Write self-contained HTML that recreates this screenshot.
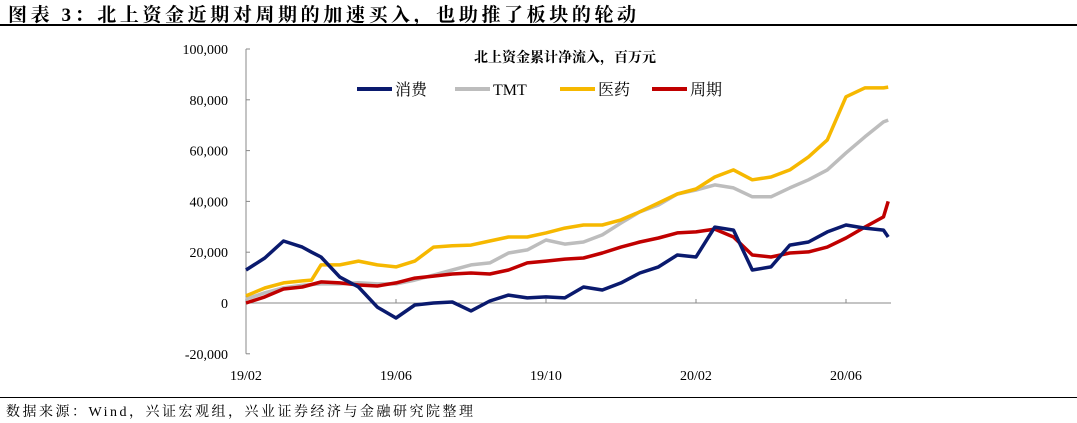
<!DOCTYPE html>
<html><head><meta charset="utf-8">
<style>
html,body{margin:0;padding:0;background:#fff;}
body{width:1077px;height:423px;overflow:hidden;position:relative;font-family:"Liberation Serif","Noto Serif CJK SC",serif;}
#title{position:absolute;left:8px;top:0px;font-size:19px;letter-spacing:3.6px;font-weight:bold;color:#000;white-space:nowrap;font-family:"Liberation Serif","Noto Serif CJK SC",serif;}
#rule1{position:absolute;left:0;top:24px;width:1077px;height:2px;background:#000;}
#rule2{position:absolute;left:0;top:397px;width:1077px;height:1px;background:#000;}
#source{position:absolute;left:6px;top:401px;font-size:14px;letter-spacing:2.5px;color:#000;white-space:nowrap;}
svg{position:absolute;left:0;top:0;}
</style></head>
<body>
<div id="title">图表 3：北上资金近期对周期的加速买入，也助推了板块的轮动</div>
<div id="rule1"></div>
<svg id="chart" width="1077" height="423"></svg>
<div id="rule2"></div>
<div id="source">数据来源：Wind，兴证宏观组，兴业证券经济与金融研究院整理</div>
<script>
const yTicks=[100000,80000,60000,40000,20000,0,-20000];
const yTickLabels=["100,000","80,000","60,000","40,000","20,000","0","-20,000"];
const xTickIdx=[0,8,16,24,32];
const xTickLabels=["19/02","19/06","19/10","20/02","20/06"];
const idx=[0,1,2,3,3.5,4,5,6,7,8,9,10,11,12,13,14,15,16,17,18,19,20,21,22,23,24,25,26,27,28,29,30,31,32,33,34,34.25];
const consumer=[13000,17700,24400,22000,20000,18100,10200,6300,-1600,-5900,-800,0,400,-3100,800,3100,2000,2400,2000,6300,5100,7900,11800,14200,18900,18100,29900,28700,13000,14200,22800,24000,28000,30700,29500,28700,26000];
const tmt=[1500,4000,6000,7000,7300,7500,7500,8000,7500,7500,9000,11000,13000,15000,15800,19700,20900,24800,23200,24000,26800,31500,35900,38600,42900,44500,46500,45300,41800,41800,45300,48500,52400,59100,65400,71300,72000];
const pharma=[2800,5900,7900,8700,9000,15000,15000,16500,15000,14200,16500,22000,22500,22800,24400,26000,26000,27600,29500,30700,30700,32700,35900,39400,42900,44900,49600,52400,48500,49600,52400,57500,64200,81200,84700,84700,85000];
const cyclical=[0,2400,5500,6300,7300,8300,7900,7100,6700,7900,9800,10600,11400,11800,11400,13000,15800,16500,17300,17700,19700,22000,24000,25600,27600,28000,29100,26000,18900,18100,19700,20100,22000,25600,29900,33900,40000];
const seriesNames=["消费","TMT","医药","周期"];

const NS="http://www.w3.org/2000/svg";
const svg=document.getElementById('chart');
const X0=246,XS=18.75,Y0=303,YS=254/100000;
const xPos=i=>X0+i*XS;
const yPos=v=>Y0-v*YS;
function mk(tag,attrs,parent){const e=document.createElementNS(NS,tag);for(const k in attrs)e.setAttribute(k,attrs[k]);(parent||svg).appendChild(e);return e;}

const ya=mk('line',{x1:X0,y1:yPos(100000),x2:X0,y2:yPos(-20000),stroke:'#888','stroke-width':1});


const xa=mk('line',{x1:X0,y1:Y0,x2:891,y2:Y0,stroke:'#888','stroke-width':1});


yTicks.forEach((v,k)=>{
  mk('line',{x1:X0,y1:yPos(v),x2:X0+4,y2:yPos(v),stroke:'#888'});
  const t=mk('text',{x:228,y:yPos(v)+5,'text-anchor':'end','font-size':14,fill:'#000'});
  t.textContent=yTickLabels[k];
  
  
});
xTickIdx.forEach((i,k)=>{
  mk('line',{x1:xPos(i),y1:Y0,x2:xPos(i),y2:Y0-4,stroke:'#888'});
  const t=mk('text',{x:xPos(i),y:380,'text-anchor':'middle','font-size':14,fill:'#000'});
  t.textContent=xTickLabels[k];
  
  
});
const ct=mk('text',{x:565,y:62,'text-anchor':'middle','font-size':14,'font-weight':'bold',fill:'#000'});
ct.textContent='北上资金累计净流入，百万元';



const series=[
 {d:tmt,c:'#bdbdbd',n:'series-tmt'},
 {d:pharma,c:'#f6b800',n:'series-pharma'},
 {d:cyclical,c:'#c00000',n:'series-cyclical'},
 {d:consumer,c:'#0a1a6e',n:'series-consumer'}
];
series.forEach(s=>{
  const pts=s.d.map((v,k)=>xPos(idx[k]).toFixed(1)+','+yPos(v).toFixed(1)).join(' ');
  const p=mk('polyline',{points:pts,fill:'none',stroke:s.c,'stroke-width':3.5,'stroke-linejoin':'round'});
  
  
});

const leg=[{x:357,c:'#0a1a6e'},{x:455,c:'#bdbdbd'},{x:560,c:'#f6b800'},{x:652,c:'#c00000'}];
leg.forEach((l,k)=>{
  const g=mk('g',{});
  
  
  mk('line',{x1:l.x,y1:89,x2:l.x+35,y2:89,stroke:l.c,'stroke-width':4},g);
  const t=mk('text',{x:l.x+38,y:95,'font-size':16,fill:'#000'},g);
  t.textContent=seriesNames[k];
});
</script>
</body></html>
